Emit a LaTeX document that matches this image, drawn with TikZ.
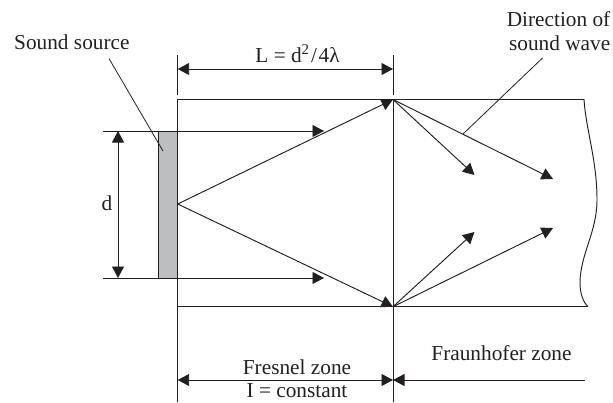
\documentclass[tikz,border=0pt]{standalone}
\usepackage{fontspec}
\setmainfont{Liberation Serif}
\usetikzlibrary{arrows.meta}
\definecolor{ink}{HTML}{231F20}
\definecolor{srcgray}{HTML}{BCBEC0}
\tikzset{
  x=1pt,y=-1pt,
  line/.style={draw=ink,line width=0.95pt},
  arr/.style={line,-{Triangle[length=11.5pt,width=12pt,fill=ink]}},
  dim/.style={line,{Triangle[length=11.5pt,width=12pt,fill=ink]}-{Triangle[length=11.5pt,width=12pt,fill=ink]}},
  lbl/.style={inner sep=0pt,text=ink,font=\fontsize{21.3}{24}\selectfont,align=center},
}
\begin{document}
\begin{tikzpicture}
\useasboundingbox (0,0) rectangle (613,402);
% reference points
\coordinate (TL) at (177.7,99.5);
\coordinate (TR) at (393,99.5);
\coordinate (TE) at (584,99.5);
\coordinate (BL) at (177.7,306.7);
\coordinate (BR) at (393,306.7);
\coordinate (BE) at (588,306.7);
\coordinate (S) at (177.7,204);
\coordinate (ST) at (103,131);
\coordinate (SB) at (103,278);
\coordinate (AT) at (324,131);
\coordinate (AB) at (324,278);
\coordinate (DT) at (118,131);
\coordinate (DB) at (118,278);
\coordinate (F1) at (474.5,175);
\coordinate (F2) at (553,179);
\coordinate (F3) at (474.5,232);
\coordinate (F4) at (553,228);
% source
\node[line,fill=srcgray,minimum width=18.7pt,minimum height=147pt,inner sep=0pt,anchor=north east] (src) at (177.7,131) {};
% tube
\draw[line] (TR) -- (TL) -- (BL) -- (BR);
\draw[line] (TR) -- (TE);
\draw[line] (BR) -- (BE);
\draw[line] (TE) .. controls (586,130) and (597,160) .. (597,200)
  .. controls (597,232) and (580,255) .. (580,283)
  .. controls (580,293) and (583,302) .. (BE);
% vertical at the zone boundary and extension lines
\coordinate (LT1) at (177.7,55);
\coordinate (LT2) at (177.7,95);
\coordinate (RT1) at (393,55);
\coordinate (RT2) at (393,95);
\coordinate (LB) at (177.7,402);
\coordinate (RB) at (393,402);
\draw[line] (LT1) -- (LT2);
\draw[line] (RT1) -- (RT2);
\draw[line] (TR) -- (RB);
\draw[line] (BL) -- (LB);
% horizontal source lines
\draw[arr] (ST) -- (AT);
\draw[arr] (SB) -- (AB);
\draw[dim] (DT) -- (DB);
% rays
\draw[arr] (S) -- (TR);
\draw[arr] (S) -- (BR);
\draw[arr] (TR) -- (F1);
\draw[arr] (TR) -- (F2);
\draw[arr] (BR) -- (F3);
\draw[arr] (BR) -- (F4);
% dimension lines
\coordinate (LDa) at (177.7,69);
\coordinate (LDb) at (393,69);
\coordinate (FDa) at (177.7,380);
\coordinate (FDb) at (393,380);
\coordinate (HDe) at (585,380);
\draw[dim] (LDa) -- (LDb);
\draw[dim] (FDa) -- (FDb);
\draw[arr] (HDe) -- (FDb);
% labels
\node[lbl,anchor=base] (lL) at (297.5,62) {L = d\textsuperscript{2}\kern1.5pt/\kern1.5pt4λ};
\node[lbl,anchor=base west] (lSS) at (14,49) {Sound source};
\node[lbl,anchor=base] (ld) at (107,210) {d};
\node[lbl,anchor=base east] (lD1) at (610.5,26) {Direction of};
\node[lbl,anchor=base east] (lD2) at (610.5,50) {sound wave};
\node[lbl,anchor=base] (lFr) at (297,374) {Fresnel zone};
\node[lbl,anchor=base] (lI) at (297,397.5) {I = constant};
\node[lbl,anchor=base] (lFh) at (501.5,360) {Fraunhofer zone};
% leaders
\coordinate (SSe) at (163,151);
\coordinate (SSs) at (109,58.5);
\coordinate (DWs) at (542.5,58);
\coordinate (DWe) at (463,134);
\draw[line,line width=0.8pt] (SSs) -- (SSe);
\draw[line,line width=0.8pt] (DWs) -- (DWe);
\end{tikzpicture}
\end{document}
